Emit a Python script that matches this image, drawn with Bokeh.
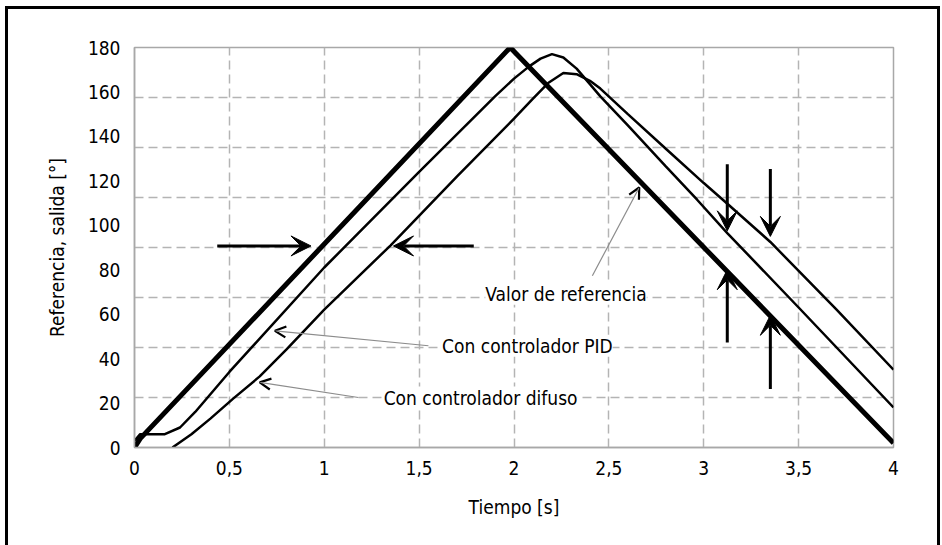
from bokeh.plotting import figure
from bokeh.models import Range1d, FixedTicker, Label, Arrow, VeeHead, OpenHead
from bokeh.embed import file_html
from bokeh.resources import INLINE

# ---- data ----
t_ref = [0.0, 0.03, 1.98, 4.0]
v_ref = [0.0, 4.0, 180.0, 2.0]

t_pid = [0.0, 0.03, 0.16, 0.24, 0.32, 0.5, 1.0, 1.5, 1.9, 2.0, 2.08, 2.14, 2.2,
         2.26, 2.33, 2.4, 2.455, 2.6, 2.8, 2.965, 3.124, 3.5, 4.0]
v_pid = [3, 6, 6, 9, 16, 34, 81, 124, 158, 166, 171.5, 175, 177,
         175.5, 170.5, 163.5, 158, 145, 126.5, 111.5, 96.5, 63, 18]

t_fuz = [0.2, 0.3, 0.4, 0.52, 0.66, 0.8, 1.0, 1.35, 1.7, 2.0, 2.1, 2.18, 2.26,
         2.33, 2.4, 2.455, 2.6, 2.806, 3.0, 3.114, 3.351, 3.7, 4.0]
v_fuz = [0, 6, 13, 22, 32, 44, 62, 91, 122, 148, 157, 164, 168.5,
         168, 165, 161.5, 150, 134, 119, 110.5, 92.5, 62, 35]

x_ticks = [0, 0.5, 1, 1.5, 2, 2.5, 3, 3.5, 4]
x_tick_labels = ["0", "0,5", "1", "1,5", "2", "2,5", "3", "3,5", "4"]
y_ticks = [0, 20, 40, 60, 80, 100, 120, 140, 160, 180]
y_grid = [22.5, 45, 67.5, 90, 112.5, 135, 157.5]
x_grid = [0.5, 1, 1.5, 2, 2.5, 3, 3.5]

FONT = "DejaVu Sans Condensed"
FS = "19px"

p = figure(width=929, height=536, output_backend="svg", toolbar_location=None,
           x_range=Range1d(0, 4), y_range=Range1d(0, 180),
           min_border_left=126, min_border_right=50, min_border_top=38, min_border_bottom=101)
p.styles = {"margin-left": "5px", "margin-top": "6px",
            "border-top": "3px solid black", "border-left": "3px solid black",
            "border-right": "3px solid black", "box-sizing": "content-box"}
p.background_fill_color = "white"
p.border_fill_color = "white"
p.outline_line_color = "#a8a8a8"
p.outline_line_width = 1.5

# axes
p.xaxis.ticker = FixedTicker(ticks=x_ticks)
p.xaxis.major_label_overrides = {t: s for t, s in zip(x_ticks, x_tick_labels)}
p.yaxis.ticker = FixedTicker(ticks=y_ticks)
for ax in (p.xaxis, p.yaxis):
    ax.axis_line_color = "#a8a8a8"
    ax.axis_line_width = 1.5
    ax.major_tick_line_color = None
    ax.minor_tick_line_color = None
    ax.major_label_text_font = FONT
    ax.major_label_text_font_size = FS
    ax.major_label_text_color = "black"
    ax.axis_label_text_font = FONT
    ax.axis_label_text_font_size = FS
    ax.axis_label_text_font_style = "normal"
    ax.axis_label_text_color = "black"
p.xaxis.axis_label = "Tiempo [s]"
p.yaxis.axis_label = "Referencia, salida [°]"
p.xaxis.major_label_standoff = 7
p.yaxis.major_label_standoff = 8
p.xaxis.axis_label_standoff = 18
p.yaxis.axis_label_standoff = 17

# grid
p.xgrid.ticker = FixedTicker(ticks=x_grid)
p.ygrid.ticker = FixedTicker(ticks=y_grid)
for g in (p.xgrid, p.ygrid):
    g.grid_line_color = "#b4b4b4"
    g.grid_line_width = 1.5
    g.grid_line_dash = "9 5"

# curves
p.line(t_fuz, v_fuz, line_color="black", line_width=2.5)
p.line(t_pid, v_pid, line_color="black", line_width=2.5)
p.line(t_ref, v_ref, line_color="black", line_width=5)

# big black arrows
def big_arrow(x0, y0, x1, y1):
    p.add_layout(Arrow(end=VeeHead(size=20, fill_color="black", line_color="black", line_width=1),
                       x_start=x0, y_start=y0, x_end=x1, y_end=y1,
                       line_color="black", line_width=3))

big_arrow(0.436, 90.7, 0.93, 90.7)
big_arrow(1.788, 90.7, 1.365, 90.7)
big_arrow(3.124, 127.5, 3.124, 97.5)
big_arrow(3.124, 47.3, 3.124, 80)
big_arrow(3.351, 125.3, 3.351, 95)
big_arrow(3.351, 26.3, 3.351, 59.5)

# thin gray pointer arrows
def thin_arrow(x0, y0, x1, y1):
    p.add_layout(Arrow(end=OpenHead(size=11, line_color="black", line_width=2.2),
                       x_start=x0, y_start=y0, x_end=x1, y_end=y1,
                       line_color="#8c8c8c", line_width=1.2))

thin_arrow(2.413, 77.3, 2.66, 117.0)
thin_arrow(1.549, 45.8, 0.74, 52.5)
thin_arrow(1.18, 22.5, 0.66, 29.3)

# labels with white background
def label(x, y, txt):
    p.add_layout(Label(x=x, y=y, text=txt, text_font=FONT, text_font_size=FS,
                       text_baseline="middle", text_align="left", text_color="black",
                       background_fill_color="white", background_fill_alpha=1.0))

label(1.849, 69.2, "Valor de referencia")
label(1.621, 45.8, "Con controlador PID")
label(1.313, 22.5, "Con controlador difuso")

open("out.html", "w").write(file_html(p, INLINE))
